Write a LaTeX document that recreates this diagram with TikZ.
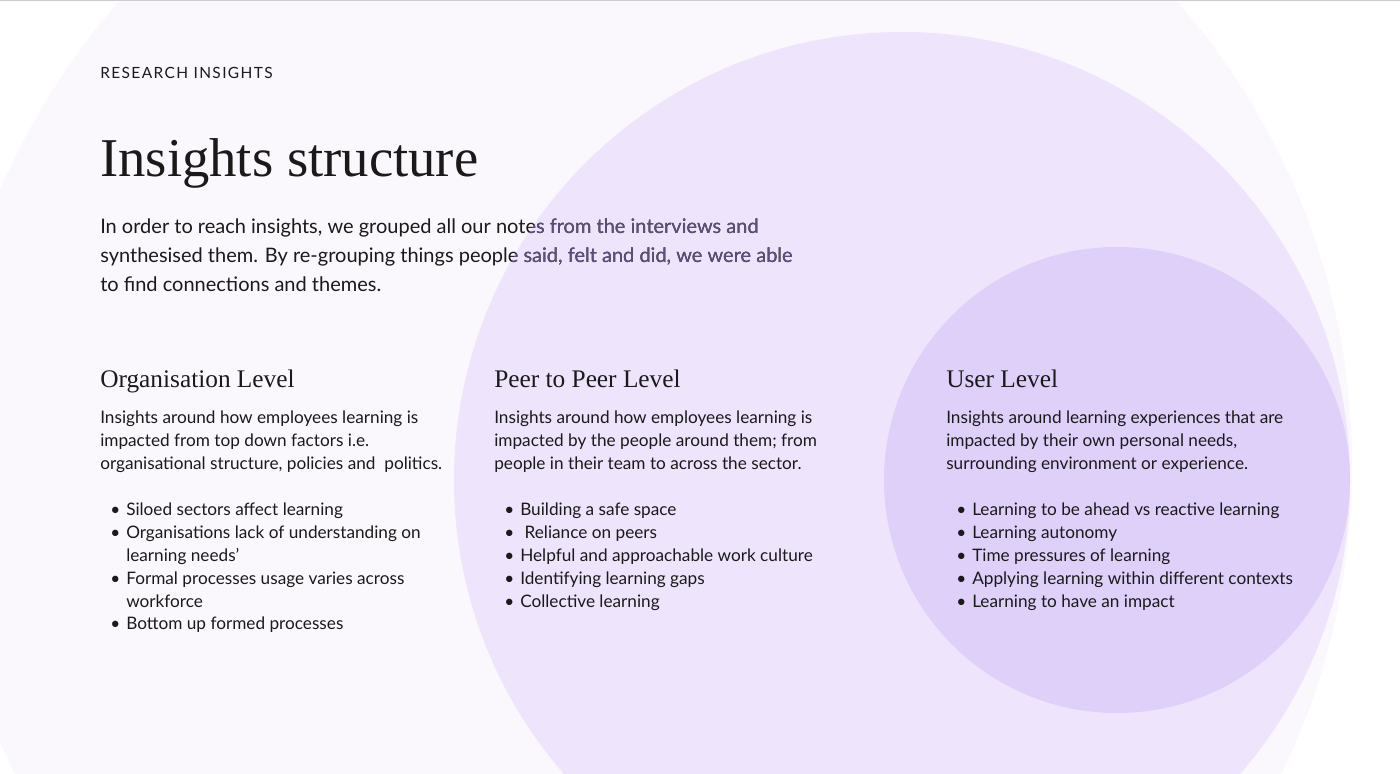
\documentclass[tikz,border=0pt]{standalone}
\usepackage{fontspec}
\setmainfont{Lato}
\newfontfamily\serifA{Liberation Serif}
\definecolor{bigc}{HTML}{FAF8FC}
\definecolor{midc}{HTML}{EEE4FB}
\definecolor{smallc}{HTML}{DFD0F9}
\definecolor{ink}{HTML}{1A1A1A}
\definecolor{inkp}{HTML}{5E4F7C}
\begin{document}
\begin{tikzpicture}[x=0.75pt,y=-0.75pt,
  txt/.style={anchor=base west,inner sep=0pt,text=ink,font=\fontsize{12.9}{15}\selectfont},
  para/.style={anchor=base west,inner sep=0pt,font=\fontsize{15}{18}\selectfont},
  head/.style={anchor=base west,inner sep=0pt,text=ink,font=\serifA\fontsize{19}{22}\selectfont},
  bul/.style={anchor=base west,inner sep=0pt,text=ink,font=\fontsize{12.9}{15}\selectfont}]
\useasboundingbox (0,0) rectangle (1400,774);
\fill[white] (0,0) rectangle (1400,774);
\begin{scope}
\clip (0,0) rectangle (1400,774);
\fill[bigc] (648,466) circle[radius=704];
\fill[midc] (902,480) circle[radius=448];
\fill[smallc] (1117,480) circle[radius=233];
\end{scope}
\draw[gray!40,line width=1.2pt] (0,0.5) -- (1400,0.5);

\node[anchor=base west,inner sep=0pt,text=ink,font=\fontsize{11.6}{14}\selectfont\addfontfeature{LetterSpace=9}] (kicker) at (100,79) {RESEARCH INSIGHTS};
\node[anchor=base west,inner sep=0pt,text=ink,font=\serifA\fontsize{41}{48}\selectfont] (title) at (100,176) {Insights structure};

\newcommand\introtext[1]{%
\node[para,text=#1] (p1) at (100,233) {In order to reach insights, we grouped all our notes from the interviews and};
\node[para,text=#1] (p2) at (100,262) {synthesised them. By re-grouping things people said, felt and did, we were able};
\node[para,text=#1] (p3) at (100,291) {to find connections and themes.};}
\introtext{ink}
\begin{scope}
\clip (902,480) circle[radius=448];
\introtext{inkp}
\end{scope}

% Organisation
\node[head] (h1) at (100,387) {Organisation Level};
\node[txt] (a1) at (100,423) {Insights around how employees learning is};
\node[txt] (a2) at (100,446) {impacted from top down factors i.e.};
\node[txt] (a3) at (100,469) {organisational structure, policies and\ \ politics.};
\foreach \n/\y/\t in {1/515/Siloed sectors affect learning,2/538/Organisations lack of understanding on,4/584/Formal processes usage varies across,6/629/Bottom up formed processes}
  {\node[bul] (ab\n) at (110,\y) {\textbullet}; \node[bul] (at\n) at (126,\y) {\t};}
\node[bul] (at3) at (126,561) {learning needs’};
\node[bul] (at5) at (126,607) {workforce};

% Peer
\node[head] (h2) at (494,387) {Peer to Peer Level};
\node[txt] (b1) at (494,423) {Insights around how employees learning is};
\node[txt] (b2) at (494,446) {impacted by the people around them; from};
\node[txt] (b3) at (494,469) {people in their team to across the sector.};
\foreach \n/\y/\t in {1/515/Building a safe space,2/538/\ Reliance on peers,3/561/Helpful and approachable work culture,4/584/Identifying learning gaps,5/607/Collective learning}
  {\node[bul] (bb\n) at (504,\y) {\textbullet}; \node[bul] (bt\n) at (520,\y) {\t};}

% User
\node[head] (h3) at (946,387) {User Level};
\node[txt] (c1) at (946,423) {Insights around learning experiences that are};
\node[txt] (c2) at (946,446) {impacted by their own personal needs,};
\node[txt] (c3) at (946,469) {surrounding environment or experience.};
\foreach \n/\y/\t in {1/515/Learning to be ahead vs reactive learning,2/538/Learning autonomy,3/561/Time pressures of learning,4/584/Applying learning within different contexts,5/607/Learning to have an impact}
  {\node[bul] (cb\n) at (956,\y) {\textbullet}; \node[bul] (ct\n) at (972,\y) {\t};}
\end{tikzpicture}
\end{document}
